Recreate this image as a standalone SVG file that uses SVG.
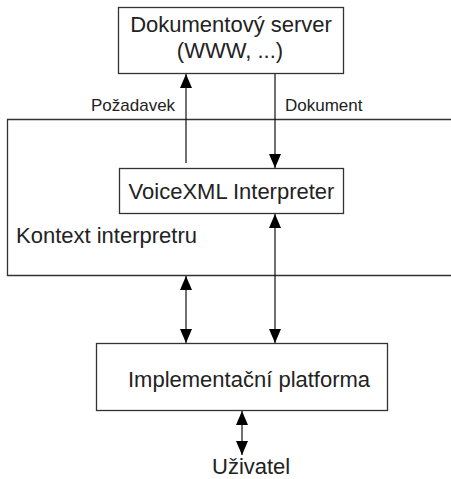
<svg xmlns="http://www.w3.org/2000/svg" width="451" height="479" viewBox="0 0 451 479">
<style>
.box{fill:#fff;stroke:#333;stroke-width:1.3}
.t{font-family:"Liberation Sans",Arial,sans-serif;font-size:22px;fill:#222}
.s{font-family:"Liberation Sans",Arial,sans-serif;font-size:17px;fill:#222}
.c{stroke:#111;stroke-width:1.2;fill:none}
</style>
<defs>
<marker id="ah" markerUnits="userSpaceOnUse" markerWidth="15" markerHeight="12" refX="14" refY="6" orient="auto-start-reverse">
<path d="M0,0 L14,6 L0,12 z" fill="#000"/>
</marker>
</defs>
<rect width="451" height="479" fill="#fff"/>
<g id="kontext">
<path class="box" d="M452,119.5 H7.5 V275.5 H452"/>
<text class="t" x="16" y="243">Kontext interpretru</text>
</g>
<g id="server">
<rect class="box" x="118.5" y="7.5" width="225" height="66"/>
<text class="t" x="231" y="32" text-anchor="middle">Dokumentový server</text>
<text class="t" x="230" y="58" text-anchor="middle">(WWW, ...)</text>
</g>
<g id="interpreter">
<rect class="box" x="119.5" y="168.5" width="224" height="45"/>
<text class="t" x="231.5" y="199" text-anchor="middle">VoiceXML Interpreter</text>
</g>
<g id="platforma">
<rect class="box" x="96.5" y="343.5" width="291" height="67"/>
<text class="t" x="128" y="387">Implementační platforma</text>
</g>
<g id="uzivatel">
<text class="t" x="212" y="474">Uživatel</text>
</g>
<g id="connectors">
<line class="c" x1="186" y1="163" x2="186" y2="74" marker-end="url(#ah)"/>
<line class="c" x1="275" y1="74" x2="275" y2="168" marker-end="url(#ah)"/>
<line class="c" x1="186" y1="276" x2="186" y2="343" marker-start="url(#ah)" marker-end="url(#ah)"/>
<line class="c" x1="275" y1="214" x2="275" y2="343" marker-start="url(#ah)" marker-end="url(#ah)"/>
<line class="c" x1="242" y1="411" x2="242" y2="455" marker-start="url(#ah)" marker-end="url(#ah)"/>
<text class="s" x="91" y="111">Požadavek</text>
<text class="s" x="285" y="111">Dokument</text>
</g>
</svg>
